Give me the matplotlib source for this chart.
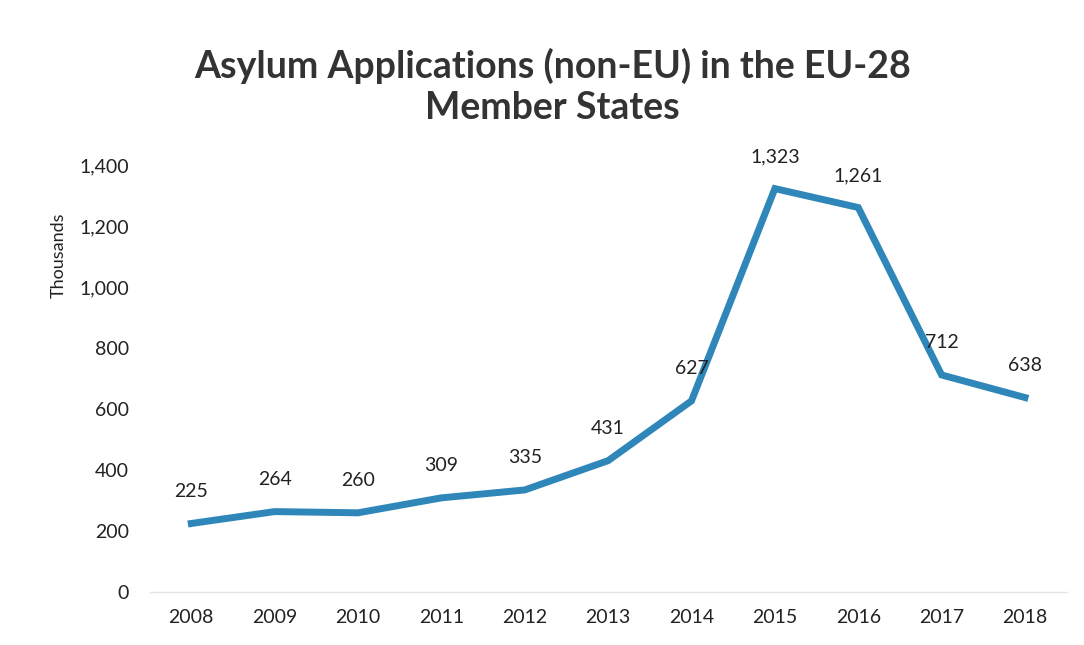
import numpy as np
import matplotlib.pyplot as plt

years = ['2008', '2009', '2010', '2011', '2012', '2013', '2014', '2015', '2016', '2017', '2018']
applications = [225, 264, 260, 309, 335, 431, 627, 1323, 1261, 712, 638]
labels = ['225', '264', '260', '309', '335', '431', '627', '1,323', '1,261', '712', '638']
yticks = [0, 200, 400, 600, 800, 1000, 1200, 1400]

plt.rcParams['font.family'] = ['Lato', 'DejaVu Sans']

fig = plt.figure(figsize=(10.84, 6.45), dpi=100)
ax = fig.add_axes([0.138, 0.082, 0.846, 0.662])

x = np.arange(len(years))
ax.plot(x, applications, color='#2f87b9', linewidth=5, solid_joinstyle='miter')

for xi, v, lab in zip(x, applications, labels):
    ax.annotate(lab, (xi, v), xytext=(0, 17), textcoords='offset points',
                ha='center', va='bottom', fontsize=14, color='#222222')

ax.set_xlim(-0.5, len(years) - 0.5)
ax.set_ylim(0, 1400)
ax.set_xticks(x)
ax.set_xticklabels(years)
ax.set_yticks(yticks)
ax.set_yticklabels(['{:,}'.format(t) for t in yticks])
ax.tick_params(length=0, labelsize=14, colors='#222222', pad=12)
ax.tick_params(axis='y', pad=15)

for s in ['top', 'right', 'left']:
    ax.spines[s].set_visible(False)
ax.spines['bottom'].set_color('#e4e4e4')
ax.spines['bottom'].set_linewidth(1)
ax.set_clip_on(False)

ax.set_ylabel('Thousands', fontsize=13, color='#222222')
ax.yaxis.set_label_coords(-0.09, 0.79)

fig.text(0.51, 0.866, 'Asylum Applications (non-EU) in the EU-28\nMember States',
         ha='center', va='center', fontsize=27, fontweight='bold', color='#333333',
         linespacing=1.25)

fig.savefig('out.png', dpi=100, facecolor='white')
